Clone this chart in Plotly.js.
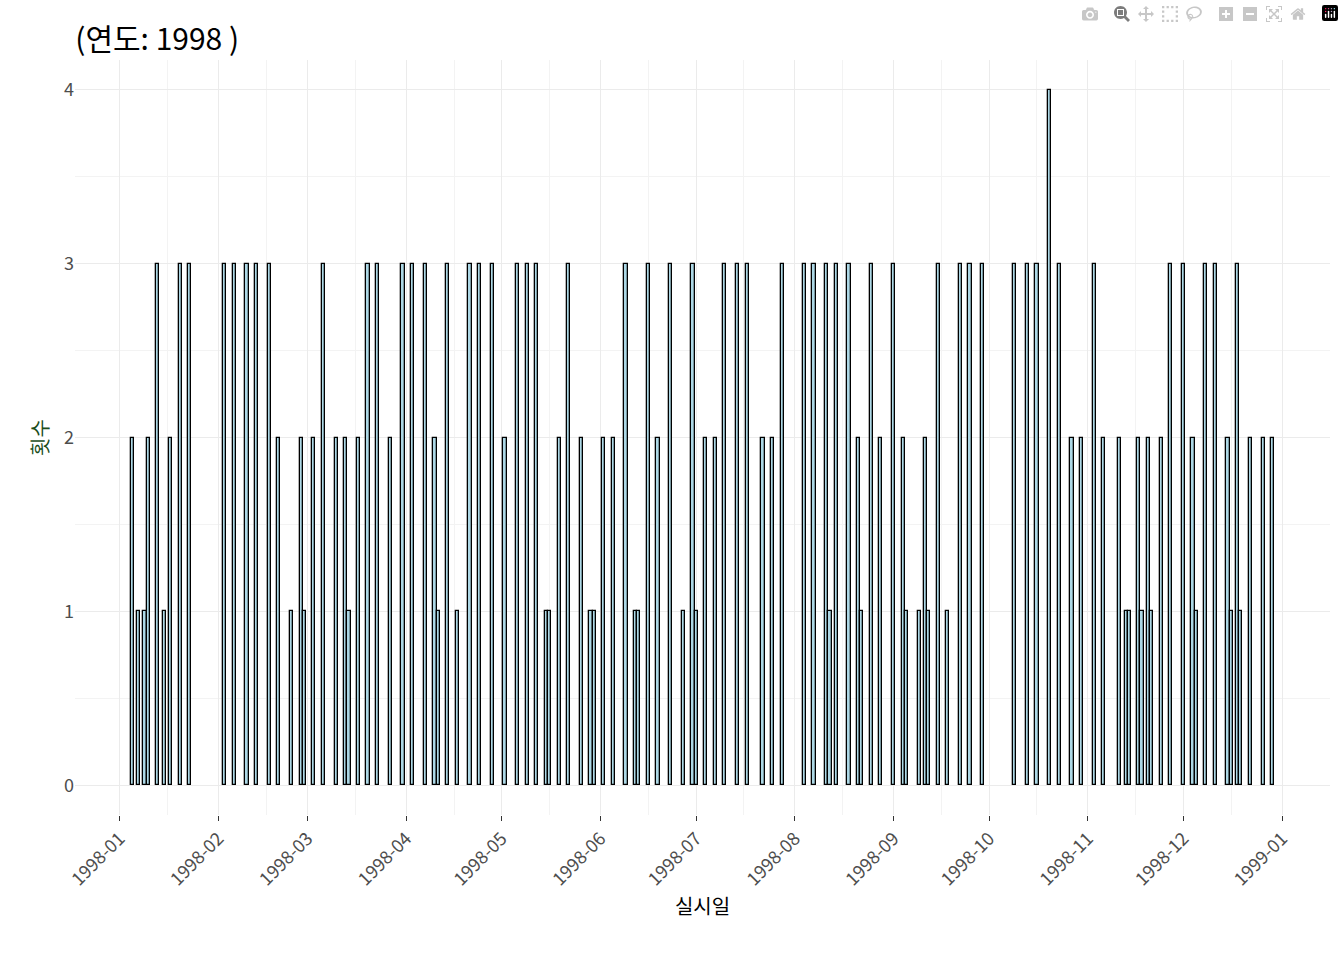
<!DOCTYPE html>
<html><head><meta charset="utf-8">
<script src="https://cdn.plot.ly/plotly-3.0.1.min.js"></script>
<style>body{margin:0;background:#fff}</style></head>
<body><div id="c" style="width:1344px;height:960px"></div>
<script>
// day-of-year offsets (0 = 1998-01-01) of each 실시일 and its 횟수
const dayOffsets = [4,6,8,9,12,14,16,19,22,33,36,40,43,47,50,54,57,58,61,64,68,71,72,75,78,81,85,89,92,96,99,100,103,106,110,113,117,121,125,128,131,134,135,138,141,145,148,149,152,155,159,162,163,166,169,173,177,180,181,184,187,190,194,197,202,205,208,215,218,222,223,225,229,232,233,236,239,243,246,247,251,253,254,257,260,264,267,271,281,285,288,292,295,299,302,306,309,314,316,317,320,321,323,324,327,330,334,337,338,341,344,348,349,351,352,355,359,362];
const counts = [2,1,1,2,3,1,2,3,3,3,3,3,3,3,2,1,2,1,2,3,2,2,1,2,3,3,2,3,3,3,2,1,3,1,3,3,3,2,3,3,3,1,1,2,3,2,1,1,2,2,3,1,1,3,2,3,1,3,1,2,2,3,3,3,2,2,3,3,3,3,1,3,3,2,1,3,2,3,2,1,1,2,1,3,1,3,3,3,3,3,3,4,3,2,2,3,2,2,1,1,2,1,2,1,2,3,3,2,1,3,3,2,1,3,1,2,2,2];
const tickVals = ['1998-01-01','1998-02-01','1998-03-01','1998-04-01','1998-05-01','1998-06-01','1998-07-01','1998-08-01','1998-09-01','1998-10-01','1998-11-01','1998-12-01','1999-01-01'];
const tickText = ['1998-01','1998-02','1998-03','1998-04','1998-05','1998-06','1998-07','1998-08','1998-09','1998-10','1998-11','1998-12','1999-01'];
const base = Date.UTC(1998,0,1);
const dates = dayOffsets.map(d => new Date(base + d*86400000).toISOString().slice(0,10));
Plotly.newPlot('c', [{
  type:'bar', x:dates, y:counts, width:86400000,
  marker:{color:'#add8e6', line:{color:'#000', width:1.3}}
}], {
  width:1344, height:960, paper_bgcolor:'#fff', plot_bgcolor:'#fff',
  font:{family:'Noto Sans CJK KR, Liberation Sans, sans-serif', color:'#4d4d4d', size:18},
  margin:{l:75, r:14, t:60, b:145},
  title:{text:'(연도: 1998 )', x:0.056, xanchor:'left', y:0.97, font:{size:30, color:'#000'}},
  showlegend:false, bargap:0,
  xaxis:{type:'date', range:['1997-12-18','1999-01-16'], tickvals:tickVals, ticktext:tickText,
    tickangle:-45, showgrid:true, gridcolor:'#ebebeb', gridwidth:1.3, zeroline:false, ticks:'outside', ticklen:5, tickcolor:'#333',
    minor:{showgrid:true, gridcolor:'#f3f3f3', dtick:'M1', tick0:'1997-12-16'},
    title:{text:'실시일', font:{size:20, color:'#000'}, standoff:10}},
  yaxis:{range:[-0.17,4.17], tickvals:[0,1,2,3,4], showgrid:true, gridcolor:'#ebebeb', gridwidth:1.3, zeroline:false,
    minor:{showgrid:true, gridcolor:'#f3f3f3', dtick:0.5},
    title:{text:'횟수', font:{size:20, color:'#1a4d1a'}, standoff:10}}
});
</script></body></html>
